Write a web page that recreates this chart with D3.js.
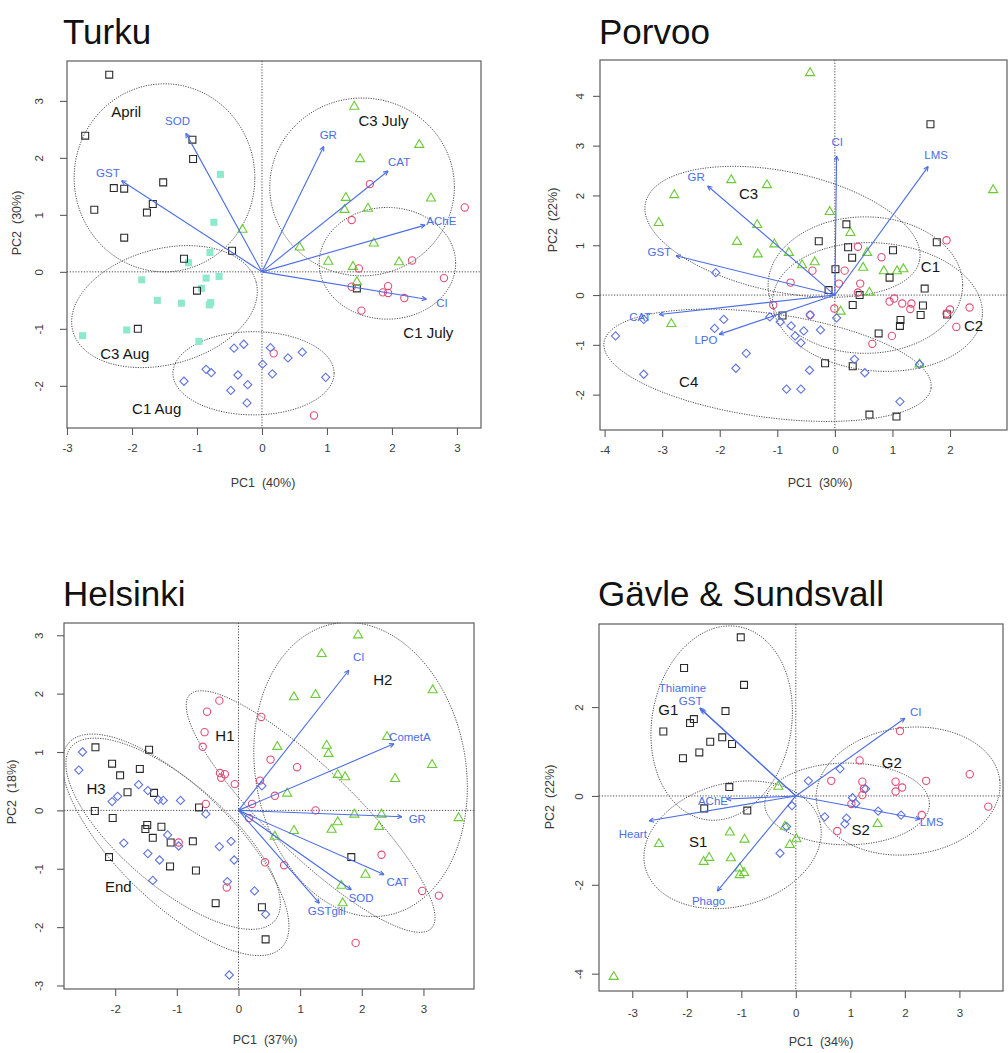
<!DOCTYPE html>
<html>
<head>
<meta charset="utf-8">
<script src="https://d3js.org/d3.v7.min.js"></script>
<style>
  body { margin: 0; background: #fff; }
  text { font-family: "Liberation Sans", Arial, Helvetica, sans-serif; }
</style>
</head>
<body>
<svg id="MAINSVG" width="1008" height="1053"></svg>
<script>

// ---------- Turku ----------
var turkuApril = [[-2.35,3.46],[-2.72,2.39],[-1.07,2.32],[-1.06,1.98],[-2.28,1.47],[-2.12,1.46],[-1.52,1.57],[-2.58,1.09],
  [-1.68,1.19],[-1.77,1.04],[-2.12,0.60],[-0.46,0.37],[-1.20,0.23],[-1.00,-0.33],[-1.91,-1.00],[1.46,-0.29]];
var turkuC3Aug = [[-0.64,1.71],[-0.74,0.87],[-0.80,0.34],[-1.13,0.16],[-1.85,-0.14],[-0.86,-0.11],[-0.66,-0.08],[-0.93,-0.29],
  [-1.61,-0.50],[-1.24,-0.55],[-0.81,-0.58],[-0.79,-0.54],[-2.08,-1.02],[-2.76,-1.12],[-0.97,-1.22]];
var turkuC3July = [[-0.30,0.74],[1.42,2.90],[2.42,2.23],[1.51,1.98],[2.60,1.29],[1.29,1.30],[1.27,1.09],[1.63,1.11],
  [1.72,0.50],[0.58,0.43],[1.02,0.18],[2.11,0.17],[1.40,0.09],[1.46,-0.18]];
var turkuC1July = [[3.12,1.13],[1.66,1.54],[1.38,0.91],[2.31,0.20],[1.49,0.06],[2.80,-0.11],[1.38,-0.26],[1.94,-0.25],
  [1.86,-0.36],[1.94,-0.37],[2.19,-0.46],[1.53,-0.68],[0.18,-1.43],[0.80,-2.52]];
var turkuC1Aug = [[-0.28,-1.27],[-0.43,-1.34],[0.01,-1.62],[-0.86,-1.71],[-0.78,-1.77],[-0.37,-1.81],[-1.20,-1.92],[-0.22,-1.98],
  [-0.48,-2.08],[-0.23,-2.30],[0.13,-1.33],[0.40,-1.51],[0.62,-1.41],[0.16,-1.79],[0.98,-1.85]];
// [name, tipX, tipY, labelX, labelY]
var turkuArrows = [["SOD",-1.17,2.43,-1.30,2.65],["GST",-2.16,1.60,-2.37,1.74],["GR",0.95,2.20,1.02,2.40],
  ["CAT",1.94,1.77,2.11,1.92],["AChE",2.51,0.82,2.76,0.89],["CI",2.53,-0.48,2.77,-0.55]];
// [centreX, centreY, uX, uY, vX, vY]
var turkuEllipses = [[-1.50,1.65,1.39,0,0,1.65],[-1.50,-0.61,1.41,0.43,0.23,-0.98],[-0.13,-1.78,1.24,0,0,0.73],
  [1.54,1.49,1.42,0,0,1.56],[1.93,0.15,1.05,0,0,0.98]];
var turkuGroups = [["April",-2.09,2.81],["C3 Aug",-2.11,-1.43],["C1 Aug",-1.62,-2.40],["C3 July",1.87,2.65],["C1 July",2.56,-1.06]];

// ---------- Porvoo ----------
var porvooGreen = [[-2.79,2.01],[-1.80,2.31],[-1.18,2.21],[-3.06,1.45],[-1.35,1.41],[-1.70,1.07],[-1.34,0.82],[-1.05,1.02],
  [-2.84,-0.58],[-0.43,4.46],[2.75,2.11],[-0.09,1.67],[0.27,1.25],[-0.35,0.66],[-0.57,0.60],[0.49,0.55],[0.56,0.85],
  [0.85,0.48],[1.08,0.48],[1.19,0.52],[0.60,0.05],[0.10,-0.33],[1.47,-1.39],[-0.80,0.85]];
var porvooBlack = [[1.66,3.43],[0.20,1.42],[-0.28,1.08],[0.23,0.96],[0.30,0.75],[1.01,0.90],[1.77,1.06],[0.01,0.52],
  [0.95,0.35],[1.56,0.13],[-0.11,0.10],[0.43,0.00],[0.31,-0.20],[1.53,-0.21],[1.49,-0.40],[1.95,-0.39],[1.14,-0.50],
  [1.13,-0.62],[-0.91,-0.41],[0.76,-0.77],[-0.17,-1.37],[0.31,-1.43],[0.60,-2.40],[1.07,-2.44]];
var porvooRed = [[1.94,1.10],[0.40,0.97],[0.81,0.76],[-0.39,0.49],[0.17,0.49],[0.44,0.23],[0.07,0.23],[-0.77,0.25],
  [0.40,0.05],[0.95,-0.13],[1.03,-0.07],[1.17,-0.17],[1.33,-0.17],[1.31,-0.28],[-0.01,-0.27],[2.34,-0.25],[2.00,-0.29],
  [1.94,-0.37],[2.11,-0.64],[0.99,-0.82],[0.65,-0.98],[-1.07,-0.20],[-0.43,-0.40]];
var porvooBlue = [[-2.07,0.45],[-3.81,-0.82],[-3.32,-0.49],[-3.32,-1.59],[-1.93,-0.49],[-2.09,-0.67],[-1.54,-1.17],[-1.72,-1.47],
  [-1.13,-0.44],[-0.95,-0.54],[-0.76,-0.62],[-0.54,-0.72],[-0.25,-0.70],[-0.69,-0.82],[-0.59,-0.96],[0.03,-0.46],
  [-0.43,-0.40],[0.34,-1.29],[0.52,-1.56],[1.47,-1.39],[-0.44,-1.51],[-0.84,-1.89],[-0.59,-1.89],[1.13,-2.14]];
var porvooArrows = [["CI",0.03,2.79,0.04,3.07],["LMS",1.62,2.58,1.76,2.81],["GR",-2.21,2.19,-2.41,2.38],
  ["GST",-2.76,0.79,-3.05,0.87],["CAT",-3.05,-0.39,-3.38,-0.44],["LPO",-2.01,-0.79,-2.24,-0.90]];
var porvooEllipses = [[-0.91,1.27,2.38,-0.58,-0.22,-1.18],[-1.17,-1.41,2.84,-0.46,-0.13,-1.03],
  [0.53,0.20,1.69,0,0,1.37],[0.74,-0.24,1.82,-0.18,-0.10,-1.28]];
var porvooGroups = [["C3",-1.50,2.04],["C4",-2.54,-1.74],["C1",1.66,0.57],["C2",2.41,-0.62]];

// ---------- Helsinki ----------
var helBlack = [[-2.32,1.08],[-1.45,1.04],[-2.05,0.80],[-1.92,0.60],[-1.60,0.71],[-1.80,0.31],[-1.37,0.30],[-2.33,-0.01],
  [-2.04,-0.13],[-1.48,-0.25],[-1.51,-0.32],[-1.25,-0.28],[-1.39,-0.47],[-1.10,-0.55],[-0.74,-0.53],[-0.64,0.05],
  [-2.10,-0.80],[-1.11,-0.96],[-0.69,-1.03],[-0.37,-1.59],[1.83,-0.80],[0.38,-1.66],[0.44,-2.21]];
var helBlue = [[-2.53,1.00],[-2.59,0.69],[-1.62,0.44],[-1.47,0.34],[-1.96,0.24],[-2.05,0.15],[-1.30,0.18],[-1.22,0.17],
  [-0.94,0.17],[-0.53,-0.06],[-1.86,-0.56],[-1.15,-0.42],[-0.97,-0.61],[-1.47,-0.74],[-1.28,-0.85],[-1.39,-1.20],
  [-0.31,-0.62],[-0.12,-0.53],[-0.07,-0.85],[-0.18,-1.22],[-0.15,-2.82],[0.38,0.42],[0.26,-1.38],[0.44,-1.78]];
var helRed = [[-0.31,1.88],[-0.51,1.69],[-0.55,1.34],[-0.58,1.09],[-0.30,0.64],[-0.22,0.62],[-0.28,0.56],[-0.06,0.45],
  [-0.53,0.11],[-0.97,-0.55],[-0.19,-1.32],[0.37,1.60],[0.52,0.87],[0.95,0.74],[0.35,0.51],[0.59,0.25],[0.22,0.11],
  [1.25,0.00],[0.17,-0.13],[0.43,-0.89],[0.74,-0.94],[2.32,-0.76],[2.98,-1.38],[3.25,-1.46],[1.90,-2.27]];
var helGreen = [[1.94,3.00],[1.35,2.68],[0.90,1.94],[1.25,1.98],[3.15,2.06],[2.41,1.26],[0.63,1.09],[1.43,1.11],
  [1.46,0.97],[1.61,0.61],[1.73,0.57],[2.54,0.54],[3.14,0.78],[0.79,0.29],[3.57,-0.13],[1.88,-0.07],[2.32,-0.07],
  [1.61,-0.20],[1.51,-0.33],[2.28,-0.28],[0.90,-0.35],[0.59,-0.45],[2.06,-1.10],[1.67,-1.29],[1.69,-1.59]];
var helArrows = [["CI",1.79,2.40,1.95,2.62],["CometA",2.52,1.14,2.78,1.26],["GR",2.65,-0.11,2.90,-0.14],
  ["CAT",2.36,-1.10,2.58,-1.22],["SOD",1.83,-1.36,1.99,-1.50],["GSTgill",1.31,-1.59,1.43,-1.73]];
var helEllipses = [[1.98,0.70,-0.42,2.50,1.68,0.31],[1.17,-0.02,1.96,-2.00,-0.48,-0.53],
  [-1.06,-0.40,1.65,-1.49,-0.55,-0.68],[-1.02,-0.59,1.72,-1.76,-0.65,-0.71]];
var helGroups = [["H1",-0.22,1.28],["H2",2.34,2.24],["H3",-2.31,0.37],["End",-1.95,-1.31]];

// ---------- Gävle & Sundsvall ----------
var gavBlack = [[-1.01,3.57],[-2.05,2.88],[-0.95,2.50],[-1.29,1.91],[-2.43,1.45],[-1.87,1.73],[-1.94,1.64],[-1.35,1.32],
  [-1.57,1.22],[-1.17,1.17],[-1.77,0.98],[-2.07,0.85],[-1.22,0.20],[-1.68,-0.28],[-0.89,-0.33]];
var gavGreen = [[-2.51,-1.08],[-1.21,-0.82],[-0.94,-0.98],[-1.59,-1.39],[-1.69,-1.48],[-1.19,-1.40],[-1.03,-1.63],
  [-0.95,-1.73],[-1.03,-1.78],[-3.34,-4.07],[-0.32,0.21],[-0.20,-0.69],[-0.11,-1.10],[0.01,-0.97],[1.50,-0.63]];
var gavRed = [[1.91,1.46],[1.17,0.80],[0.65,0.34],[1.22,0.32],[1.25,0.16],[1.22,0.02],[1.83,0.32],[1.83,0.10],
  [1.95,0.19],[2.39,0.34],[3.19,0.49],[3.53,-0.24],[2.31,-0.43],[0.76,-0.79],[1.02,-0.18]];
var gavBlue = [[0.81,0.61],[0.23,0.34],[1.28,0.16],[1.04,-0.04],[1.10,-0.17],[-0.07,-0.22],[1.51,-0.34],[1.93,-0.43],
  [0.53,-0.47],[0.93,-0.50],[0.90,-0.63],[-0.17,-0.69],[-0.29,-1.29]];
var gavArrows = [["CI",2.00,1.75,2.20,1.90],["LMS",2.28,-0.52,2.49,-0.58],["Thiamine",-1.76,1.98,-2.08,2.44],
  ["GST",-1.73,1.94,-1.93,2.14],["AChE",-1.27,-0.07,-1.52,-0.11],["Heart",-2.69,-0.56,-2.99,-0.86],
  ["Phago",-1.44,-2.14,-1.60,-2.36]];
var gavEllipses = [[-1.36,1.64,0.31,2.17,1.26,-0.27],[-1.16,-1.10,1.60,0.52,0.29,-1.34],
  [0.94,-0.18,1.51,0,0,0.92],[2.06,0.11,1.68,0.25,0.14,-1.42]];
var gavGroups = [["G1",-2.34,1.94],["S1",-1.79,-1.03],["G2",1.76,0.74],["S2",1.19,-0.77]];

// ---------- layout ----------
var SVG = d3.select("#MAINSVG");
var ARROW_COL = "#4b6de6";

var symStyle = {
  square:   {type: d3.symbolSquare,   size: 48, stroke: "#2a2a2a", fill: "none", rot: 0},
  fsquare:  {type: d3.symbolSquare,   size: 50, stroke: "none",    fill: "#8de9cb", rot: 0},
  triangle: {type: d3.symbolTriangle, size: 36, stroke: "#6acb35", fill: "none", rot: 0},
  circle:   {type: d3.symbolCircle,   size: 42, stroke: "#e54c74", fill: "none", rot: 0},
  diamond:  {type: d3.symbolSquare,   size: 34, stroke: "#5f73e2", fill: "none", rot: 45}
};

var panels = [
  {title: "Turku", tx: 63, ty: 44, box: [67, 61, 481, 428], xDom: [-3.0, 3.37], yDom: [-2.74, 3.70],
   xTicks: [-3,-2,-1,0,1,2,3], yTicks: [-2,-1,0,1,2,3], xLab: "PC1\u00a0\u00a0(40%)", yLab: "PC2\u00a0\u00a0(30%)",
   xLabPos: [263, 483], yLabPos: [17, 223], yTickOff: 24, xTickOff: 20,
   series: [[turkuC3Aug,"fsquare"],[turkuApril,"square"],[turkuC3July,"triangle"],[turkuC1July,"circle"],[turkuC1Aug,"diamond"]],
   arrows: turkuArrows, ellipses: turkuEllipses, groups: turkuGroups},
  {title: "Porvoo", tx: 599, ty: 44, box: [600, 60, 1007, 430], xDom: [-4.08, 2.99], yDom: [-2.71, 4.72],
   xTicks: [-4,-3,-2,-1,0,1,2], yTicks: [-2,-1,0,1,2,3,4], xLab: "PC1\u00a0\u00a0(30%)", yLab: "PC2\u00a0\u00a0(22%)",
   xLabPos: [820, 483], yLabPos: [553, 220], yTickOff: 16, xTickOff: 20,
   series: [[porvooGreen,"triangle"],[porvooBlack,"square"],[porvooRed,"circle"],[porvooBlue,"diamond"]],
   arrows: porvooArrows, ellipses: porvooEllipses, groups: porvooGroups},
  {title: "Helsinki", tx: 63, ty: 606, box: [64, 623, 474, 989], xDom: [-2.83, 3.82], yDom: [-3.06, 3.21],
   xTicks: [-2,-1,0,1,2,3], yTicks: [-3,-2,-1,0,1,2,3], xLab: "PC1\u00a0\u00a0(37%)", yLab: "PC2\u00a0\u00a0(18%)",
   xLabPos: [265, 1040], yLabPos: [12, 792], yTickOff: 21, xTickOff: 20,
   series: [[helBlack,"square"],[helBlue,"diamond"],[helRed,"circle"],[helGreen,"triangle"]],
   arrows: helArrows, ellipses: helEllipses, groups: helGroups},
  {title: "Gävle & Sundsvall", tx: 598, ty: 606, box: [599, 624, 1003, 991], xDom: [-3.61, 3.80], yDom: [-4.39, 3.87],
   xTicks: [-3,-2,-1,0,1,2,3], yTicks: [-4,-2,0,2], xLab: "PC1\u00a0\u00a0(34%)", yLab: "PC2\u00a0\u00a0(22%)",
   xLabPos: [821, 1042], yLabPos: [550, 797], yTickOff: 16, xTickOff: 22,
   series: [[gavBlack,"square"],[gavGreen,"triangle"],[gavRed,"circle"],[gavBlue,"diamond"]],
   arrows: gavArrows, ellipses: gavEllipses, groups: gavGroups}
];

panels.forEach(function(p, i) { drawPanel(p, i); });

function drawPanel(p, idx) {
  var g = SVG.append("g");
  var x = d3.scaleLinear().domain(p.xDom).range([p.box[0], p.box[2]]);
  var y = d3.scaleLinear().domain(p.yDom).range([p.box[3], p.box[1]]);

  g.append("defs").append("clipPath").attr("id", "clip" + idx)
    .append("rect").attr("x", p.box[0]).attr("y", p.box[1])
    .attr("width", p.box[2] - p.box[0]).attr("height", p.box[3] - p.box[1]);

  // title
  g.append("text").attr("x", p.tx).attr("y", p.ty)
    .attr("font-size", 35).attr("fill", "#111").text(p.title);

  var inner = g.append("g").attr("clip-path", "url(#clip" + idx + ")");

  // ellipses
  var line = d3.line().x(function(d){ return x(d[0]); }).y(function(d){ return y(d[1]); })
    .curve(d3.curveLinearClosed);
  p.ellipses.forEach(function(e) {
    var pts = d3.range(0, 2 * Math.PI, Math.PI / 90).map(function(t) {
      return [e[0] + e[2] * Math.cos(t) + e[4] * Math.sin(t), e[1] + e[3] * Math.cos(t) + e[5] * Math.sin(t)];
    });
    inner.append("path").attr("d", line(pts))
      .attr("fill", "none").attr("stroke", "#4a4a4a").attr("stroke-width", 1)
      .attr("stroke-dasharray", "1.2,1.3");
  });

  // zero lines
  inner.append("line").attr("x1", x(0)).attr("x2", x(0)).attr("y1", p.box[1]).attr("y2", p.box[3])
    .attr("stroke", "#4a4a4a").attr("stroke-width", 1).attr("stroke-dasharray", "1.2,1.6");
  inner.append("line").attr("x1", p.box[0]).attr("x2", p.box[2]).attr("y1", y(0)).attr("y2", y(0))
    .attr("stroke", "#4a4a4a").attr("stroke-width", 1).attr("stroke-dasharray", "1.2,1.6");

  // points
  p.series.forEach(function(s) {
    var st = symStyle[s[1]];
    var sym = d3.symbol().type(st.type).size(st.size);
    inner.selectAll(null).data(s[0]).enter().append("path")
      .attr("d", sym)
      .attr("transform", function(d){ return "translate(" + x(d[0]) + "," + y(d[1]) + ") rotate(" + st.rot + ")"; })
      .attr("fill", st.fill).attr("stroke", st.stroke).attr("stroke-width", 1.1);
  });

  // loading arrows
  p.arrows.forEach(function(a) {
    var x0 = x(0), y0 = y(0), x1 = x(a[1]), y1 = y(a[2]);
    inner.append("line").attr("x1", x0).attr("y1", y0).attr("x2", x1).attr("y2", y1)
      .attr("stroke", ARROW_COL).attr("stroke-width", 1.1);
    var ang = Math.atan2(y1 - y0, x1 - x0);
    [-0.45, 0.45].forEach(function(da) {
      inner.append("line").attr("x1", x1).attr("y1", y1)
        .attr("x2", x1 - 5 * Math.cos(ang + da)).attr("y2", y1 - 5 * Math.sin(ang + da))
        .attr("stroke", ARROW_COL).attr("stroke-width", 1.1);
    });
    inner.append("text").attr("x", x(a[3])).attr("y", y(a[4])).attr("dy", "0.35em")
      .attr("text-anchor", "middle").attr("font-size", 11.5).attr("fill", ARROW_COL).text(a[0]);
  });

  // group labels
  inner.selectAll(null).data(p.groups).enter().append("text")
    .attr("x", function(d){ return x(d[1]); }).attr("y", function(d){ return y(d[2]); })
    .attr("dy", "0.35em").attr("text-anchor", "middle")
    .attr("font-size", 15).attr("fill", "#151515").text(function(d){ return d[0]; });

  // frame
  g.append("rect").attr("x", p.box[0]).attr("y", p.box[1])
    .attr("width", p.box[2] - p.box[0]).attr("height", p.box[3] - p.box[1])
    .attr("fill", "none").attr("stroke", "#5c5c5c").attr("stroke-width", 1.2);

  // axes
  var xa = g.append("g").attr("transform", "translate(0," + p.box[3] + ")")
    .call(d3.axisBottom(x).tickValues(p.xTicks).tickSize(7).tickFormat(function(d){ return String(d); }));
  var ya = g.append("g").attr("transform", "translate(" + p.box[0] + ",0)")
    .call(d3.axisLeft(y).tickValues(p.yTicks).tickSize(7).tickFormat(function(d){ return String(d); }));
  [xa, ya].forEach(function(a) {
    a.select(".domain").remove();
    a.selectAll(".tick line").attr("stroke", "#5c5c5c").attr("stroke-width", 1.1);
    a.selectAll(".tick text").attr("fill", "#3a3a3a").attr("font-size", 11.5)
      .attr("font-family", "'Liberation Sans', Arial, sans-serif");
  });
  xa.selectAll(".tick text").attr("y", p.xTickOff).attr("dy", "0.35em");
  ya.selectAll(".tick text").attr("transform", "rotate(-90)")
    .attr("x", 0).attr("y", -p.yTickOff).attr("dy", 0).attr("text-anchor", "middle");

  // axis titles
  g.append("text").attr("x", p.xLabPos[0]).attr("y", p.xLabPos[1]).attr("dy", "0.35em")
    .attr("text-anchor", "middle").attr("font-size", 12.5).attr("fill", "#3a3a3a").text(p.xLab);
  g.append("text").attr("transform", "translate(" + p.yLabPos[0] + "," + p.yLabPos[1] + ") rotate(-90)")
    .attr("dy", "0.35em").attr("text-anchor", "middle").attr("font-size", 12.5).attr("fill", "#3a3a3a").text(p.yLab);
}
</script>
</body>
</html>
